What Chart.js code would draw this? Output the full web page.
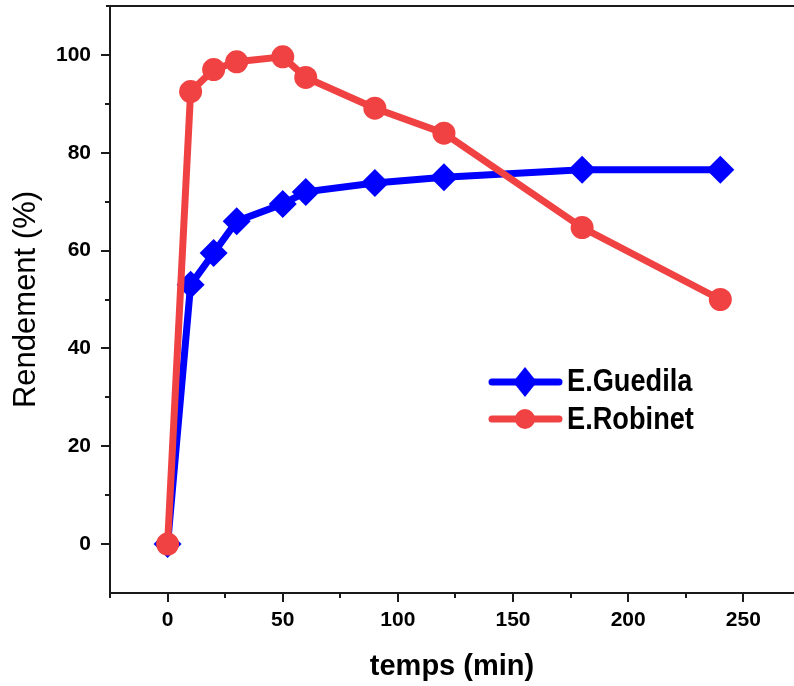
<!DOCTYPE html>
<html>
<head>
<meta charset="utf-8">
<script src="https://cdn.jsdelivr.net/npm/chart.js@4/dist/chart.umd.min.js"></script>
<style>
  html, body { margin: 0; padding: 0; background: #fff; }
  #wrap { width: 794px; height: 686px; }
</style>
</head>
<body>
<div id="wrap"><canvas id="chartCanvas" width="794" height="686"></canvas></div>
<script>
// temps (min)
const temps = [0, 10, 20, 30, 50, 60, 90, 120, 180, 240];
// Rendement (%)
const guedila = [0, 53, 59.5, 66, 69.5, 72, 73.8, 75, 76.5, 76.5];
const robinet = [0, 92.5, 97, 98.6, 99.6, 95.4, 89.1, 84, 64.7, 50];

const xTicks = [0, 50, 100, 150, 200, 250];
const xMinor = [-25, 25, 75, 125, 175, 225];
const yTicks = [0, 20, 40, 60, 80, 100];
const yMinor = [10, 30, 50, 70, 90];

const seriesNames = ['E.Guedila', 'E.Robinet'];
const blue = '#0000ff';
const red = '#f04242';
const axisColor = '#1a1a1a';

const toPoints = ys => temps.map((t, i) => ({ x: t, y: ys[i] }));

// minor ticks, top frame line and the legend drawn inside the plot
const extras = {
  id: 'extras',
  afterDraw(chart) {
    const ctx = chart.ctx;
    const area = chart.chartArea;
    const xs = chart.scales.x;
    const ys = chart.scales.y;
    ctx.save();
    ctx.strokeStyle = axisColor;
    ctx.lineWidth = 2;
    ctx.beginPath();
    ctx.moveTo(area.left - 4, area.top);
    ctx.lineTo(area.right, area.top);
    xMinor.forEach(v => {
      const px = Math.round(xs.getPixelForValue(v));
      ctx.moveTo(px, area.bottom);
      ctx.lineTo(px, area.bottom + 5);
    });
    yMinor.forEach(v => {
      const py = Math.round(ys.getPixelForValue(v));
      ctx.moveTo(area.left, py);
      ctx.lineTo(area.left - 5, py);
    });
    ctx.stroke();

    // legend
    const items = [
      { name: seriesNames[0], color: blue, shape: 'diamond', y: 382, base: 391 },
      { name: seriesNames[1], color: red, shape: 'circle', y: 419, base: 429 }
    ];
    items.forEach(it => {
      ctx.strokeStyle = it.color;
      ctx.fillStyle = it.color;
      ctx.lineWidth = 7;
      ctx.lineCap = 'round';
      ctx.beginPath();
      ctx.moveTo(492, it.y);
      ctx.lineTo(559, it.y);
      ctx.stroke();
      ctx.beginPath();
      if (it.shape === 'diamond') {
        ctx.moveTo(525, it.y - 15);
        ctx.lineTo(537, it.y);
        ctx.lineTo(525, it.y + 15);
        ctx.lineTo(513, it.y);
        ctx.closePath();
      } else {
        ctx.arc(525, it.y, 10, 0, Math.PI * 2);
      }
      ctx.fill();
      ctx.save();
      ctx.translate(567, it.base);
      ctx.scale(0.85, 1);
      ctx.fillStyle = '#000';
      ctx.font = 'bold 32px "Liberation Sans", Arial, sans-serif';
      ctx.textBaseline = 'alphabetic';
      ctx.fillText(it.name, 0, 0);
      ctx.restore();
    });
    ctx.restore();
  }
};

const tickFont = { family: '"Liberation Sans", Arial, sans-serif', size: 21, weight: 'bold' };

new Chart(document.getElementById('chartCanvas').getContext('2d'), {
  type: 'line',
  data: {
    datasets: [
      {
        label: seriesNames[1],
        data: toPoints(robinet),
        borderColor: red,
        backgroundColor: red,
        borderWidth: 7,
        pointStyle: 'circle',
        pointRadius: 11.5,
        pointBorderWidth: 0,
        tension: 0
      },
      {
        label: seriesNames[0],
        data: toPoints(guedila),
        borderColor: blue,
        backgroundColor: blue,
        borderWidth: 7,
        pointStyle: 'rectRot',
        pointRadius: 14,
        pointBorderWidth: 0,
        tension: 0
      }
    ]
  },
  options: {
    responsive: false,
    animation: false,
    devicePixelRatio: 1,
    layout: { autoPadding: false, padding: { top: 6, left: 0, right: 0, bottom: 0 } },
    plugins: { legend: { display: false }, tooltip: { enabled: false } },
    scales: {
      x: {
        type: 'linear',
        min: -25,
        max: 272,
        afterBuildTicks: s => { s.ticks = xTicks.map(v => ({ value: v })); },
        afterFit: s => { s.height = 93; s.paddingLeft = 0; s.paddingRight = 0; },
        ticks: { font: tickFont, color: '#000', padding: 6, maxRotation: 0, autoSkip: false },
        grid: { drawOnChartArea: false, drawTicks: true, tickLength: 9, color: axisColor, lineWidth: 2 },
        border: { display: true, color: axisColor, width: 2 },
        title: {
          display: true,
          text: 'temps (min)',
          color: '#000',
          font: { family: '"Liberation Sans", Arial, sans-serif', size: 29, weight: 'bold' },
          padding: { top: 0, bottom: 2 }
        }
      },
      y: {
        min: -10,
        max: 110,
        afterBuildTicks: s => { s.ticks = yTicks.map(v => ({ value: v })); },
        afterFit: s => { s.width = 110; s.paddingTop = 0; s.paddingBottom = 0; },
        ticks: { font: tickFont, color: '#000', padding: 10, autoSkip: false },
        grid: { drawOnChartArea: false, drawTicks: true, tickLength: 9, color: axisColor, lineWidth: 2 },
        border: { display: true, color: axisColor, width: 2 },
        title: {
          display: true,
          text: 'Rendement (%)',
          color: '#000',
          font: { family: '"Liberation Sans", Arial, sans-serif', size: 31, weight: 'normal' },
          padding: { top: 8, bottom: 0 }
        }
      }
    }
  },
  plugins: [extras]
});
</script>
</body>
</html>
